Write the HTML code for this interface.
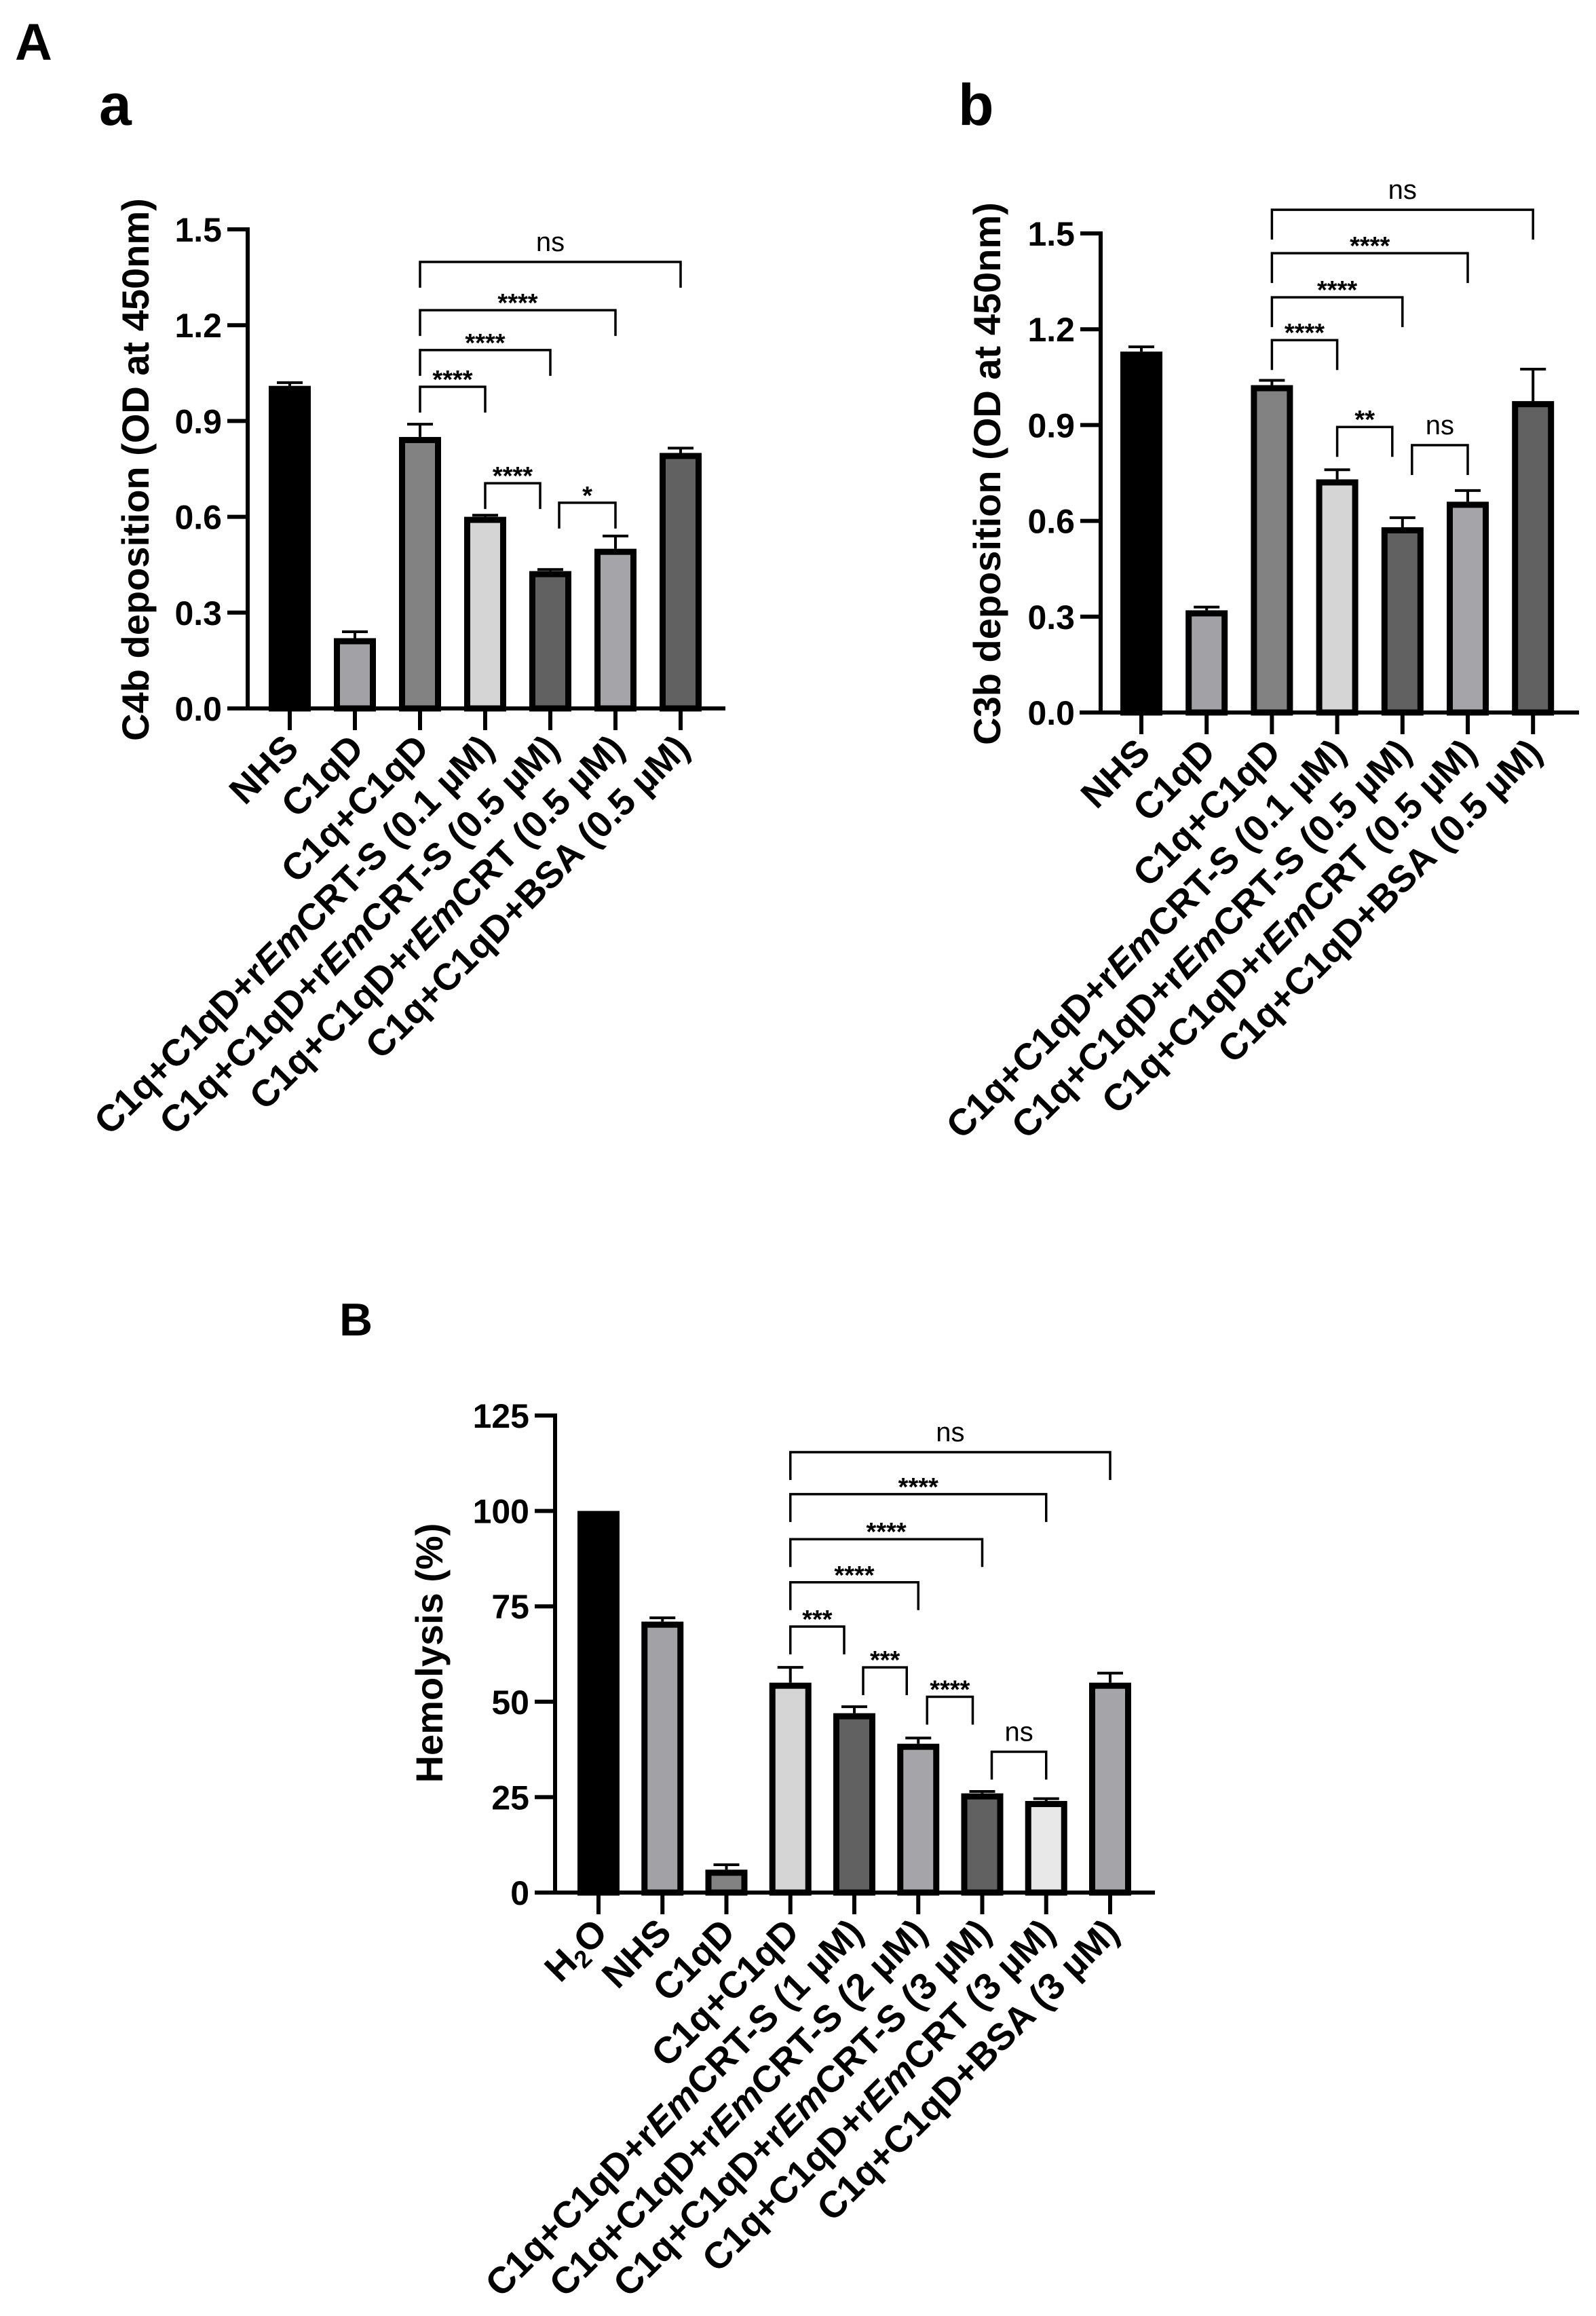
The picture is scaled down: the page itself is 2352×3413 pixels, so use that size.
<!DOCTYPE html>
<html><head><meta charset="utf-8">
<style>
html,body{margin:0;padding:0;background:#fff;}
svg{display:block;font-family:"Liberation Sans",Arial,sans-serif;}
</style></head>
<body>
<svg id="fig" width="2352" height="3413" viewBox="0 0 2352 3413" xmlns="http://www.w3.org/2000/svg">
<rect width="2352" height="3413" fill="#fff"/>
<text x="22" y="88" font-size="76" font-weight="bold">A</text>
<text x="146" y="184" font-size="86" font-weight="bold">a</text>
<text x="1412" y="184" font-size="86" font-weight="bold">b</text>
<text x="500" y="1968" font-size="68" font-weight="bold">B</text>
<g id="chartA"></g>
<g id="chartb"></g>
<g id="chartB"></g>
</svg>
<script>
// ---- Chart a: C4b deposition ----
const catsA = ["NHS","C1qD","C1q+C1qD","C1q+C1qD+rEmCRT-S (0.1 µM)","C1q+C1qD+rEmCRT-S (0.5 µM)","C1q+C1qD+rEmCRT (0.5 µM)","C1q+C1qD+BSA (0.5 µM)"];
const valsA = [1.01,0.22,0.85,0.60,0.43,0.50,0.80];
const errA = [0.01,0.02,0.04,0.005,0.005,0.04,0.015];
const ticksA = [0.0,0.3,0.6,0.9,1.2,1.5];
const tickLabelsA = ["0.0","0.3","0.6","0.9","1.2","1.5"];
const sigPairsA = [[2,3],[2,4],[2,5],[2,6],[3,4],[4,5]];
const sigLevelsA = [1.007,1.122,1.247,1.398,0.705,0.644];
const sigLabelsA = ["****","****","****","ns","****","*"];
// ---- Chart b: C3b deposition ----
const catsb = ["NHS","C1qD","C1q+C1qD","C1q+C1qD+rEmCRT-S (0.1 µM)","C1q+C1qD+rEmCRT-S (0.5 µM)","C1q+C1qD+rEmCRT (0.5 µM)","C1q+C1qD+BSA (0.5 µM)"];
const valsb = [1.13,0.32,1.025,0.73,0.58,0.66,0.975];
const errb = [0.015,0.01,0.015,0.03,0.03,0.035,0.10];
const ticksb = [0.0,0.3,0.6,0.9,1.2,1.5];
const tickLabelsb = ["0.0","0.3","0.6","0.9","1.2","1.5"];
const sigPairsb = [[2,3],[2,4],[2,5],[2,6],[3,4],[4,5]];
const sigLevelsb = [1.166,1.30,1.438,1.574,0.894,0.837];
const sigLabelsb = ["****","****","****","ns","**","ns"];
// ---- Chart B: Hemolysis ----
const catsB = ["H2O","NHS","C1qD","C1q+C1qD","C1q+C1qD+rEmCRT-S (1 µM)","C1q+C1qD+rEmCRT-S (2 µM)","C1q+C1qD+rEmCRT-S (3 µM)","C1q+C1qD+rEmCRT (3 µM)","C1q+C1qD+BSA (3 µM)"];
const valsB = [100,71,6,55,47,39,26,24,55];
const errB = [0,1,1.3,4,1.7,1.5,0.5,0.6,2.5];
const ticksB = [0,25,50,75,100,125];
const tickLabelsB = ["0","25","50","75","100","125"];
const sigPairsB = [[3,8],[3,7],[3,6],[3,5],[3,4],[4,5],[5,6],[6,7]];
const sigLevelsB = [115.4,104.4,92.6,81.3,69.7,59,51.3,36.9];
const sigLabelsB = ["ns","****","****","****","***","***","****","ns"];

// bracket end insets (style, px)
const insetA = [[0,0],[0,0],[0,0],[0,0],[0,-15],[13,0]];
const insetb = [[0,0],[0,0],[0,0],[0,0],[0,-15],[14,0]];
const insetB = [[0,0],[0,0],[0,0],[0,0],[0,-15],[13,-17],[13,-14],[14,0]];

const NS = "http://www.w3.org/2000/svg";
function mk(parent, tag, attrs){
  const e = document.createElementNS(NS, tag);
  for (const k in attrs) e.setAttribute(k, attrs[k]);
  parent.appendChild(e);
  return e;
}
function labelText(t, name){
  
  
}
function addCatLabel(t, s){
  if (s === "H2O"){
    const a = document.createElementNS(NS,'tspan'); a.textContent = "H"; t.appendChild(a);
    const b = document.createElementNS(NS,'tspan'); b.textContent = "2"; b.setAttribute('font-size','36'); b.setAttribute('dy','10'); t.appendChild(b);
    const c = document.createElementNS(NS,'tspan'); c.textContent = "O"; c.setAttribute('dy','-10'); t.appendChild(c);
    return;
  }
  const idx = s.indexOf("rEm");
  if (idx < 0){ t.textContent = s; return; }
  const p1 = document.createElementNS(NS,'tspan'); p1.textContent = s.slice(0, idx+1); t.appendChild(p1);
  const p2 = document.createElementNS(NS,'tspan'); p2.textContent = "Em"; p2.setAttribute('font-style','italic'); t.appendChild(p2);
  const p3 = document.createElementNS(NS,'tspan'); p3.textContent = s.slice(idx+3); t.appendChild(p3);
}

function drawChart(g, cfg, cats, vals, errs, ticks, tickLabels, pairs, levels, sigLabels, colors, insets){
  const y = v => cfg.y0 - v / cfg.max * (cfg.y0 - cfg.yTop);
  const x = i => cfg.first + i * cfg.step;
  cats.forEach((c, i) => {
    const top = y(vals[i]);
    const r = mk(g, 'rect', {x: x(i) - 26.5, y: top + 4.5, width: 53, height: Math.max(0, cfg.y0 - top - 4.5), fill: colors[i], stroke: '#000', 'stroke-width': 9});
    
    
    if (errs[i] > 0){
      const eTop = y(vals[i] + errs[i]);
      const l = mk(g, 'path', {d: `M${x(i)} ${top} V${eTop} M${x(i)-19} ${eTop} H${x(i)+19}`, stroke: '#000', 'stroke-width': 4, fill: 'none'});
      
      
    }
  });
  const ya = mk(g, 'line', {x1: cfg.axisX, y1: cfg.yTop - 3, x2: cfg.axisX, y2: cfg.y0, stroke: '#000', 'stroke-width': 6});
  
  
  const xa = mk(g, 'line', {x1: cfg.xStart, y1: cfg.y0, x2: cfg.xEnd, y2: cfg.y0, stroke: '#000', 'stroke-width': 6});
  
  
  ticks.forEach((tv, k) => {
    const ty = y(tv);
    const tl = mk(g, 'line', {x1: cfg.axisX - 30, y1: ty, x2: cfg.axisX, y2: ty, stroke: '#000', 'stroke-width': 6});
    
    
    const t = mk(g, 'text', {x: cfg.axisX - 38, y: ty + 18, 'font-size': 50, 'font-weight': 'bold', 'text-anchor': 'end'});
    t.textContent = tickLabels[k];
    labelText(t, 'y-tick-label');
  });
  cats.forEach((c, i) => {
    const tl = mk(g, 'line', {x1: x(i), y1: cfg.y0, x2: x(i), y2: cfg.y0 + 32, stroke: '#000', 'stroke-width': 6});
    
    
    const ax = x(i) + 16, ay = cfg.y0 + 62;
    const t = mk(g, 'text', {x: ax, y: ay, 'font-size': 55, 'font-weight': 'bold', 'text-anchor': 'end', transform: `rotate(-45 ${ax} ${ay})`});
    addCatLabel(t, c);
    labelText(t, 'x-category-label');
  });
  const tx = cfg.titleX, tyc = cfg.titleY;
  const tt = mk(g, 'text', {x: tx, y: tyc, 'font-size': 56, 'font-weight': 'bold', 'text-anchor': 'middle', transform: `rotate(-90 ${tx} ${tyc})`});
  tt.textContent = cfg.title;
  labelText(tt, 'y-axis-title');
  pairs.forEach((p, k) => {
    const by = y(levels[k]);
    const x1 = x(p[0]) + insets[k][0], x2 = x(p[1]) + insets[k][1];
    const br = mk(g, 'path', {d: `M${x1} ${by + cfg.leg} V${by} H${x2} V${by + cfg.leg}`, stroke: '#000', 'stroke-width': 3.5, fill: 'none'});
    
    
    const isNs = sigLabels[k] === 'ns';
    const t = mk(g, 'text', {x: (x1 + x2) / 2, y: isNs ? by - 16 : by + 2, 'font-size': isNs ? 40 : 38, 'font-weight': isNs ? 'normal' : 'bold', 'text-anchor': 'middle'});
    t.textContent = sigLabels[k];
    labelText(t, 'significance-label');
  });
}

const colsA = ['#000000','#a2a2a6','#828282','#d5d5d5','#616161','#a5a5a9','#616161'];
const colsB = ['#000000','#a2a2a6','#828282','#d5d5d5','#616161','#a5a5a9','#616161','#e8e8e8','#a5a5a9'];

drawChart(document.getElementById('chartA'),
  {axisX:365, xStart:336, xEnd:1069, yTop:338, y0:1044, max:1.5, first:427, step:96, leg:38, titleX:219, titleY:692, title:'C4b deposition (OD at 450nm)'},
  catsA, valsA, errA, ticksA, tickLabelsA, sigPairsA, sigLevelsA, sigLabelsA, colsA, insetA);
drawChart(document.getElementById('chartb'),
  {axisX:1622, xStart:1591, xEnd:2327, yTop:344, y0:1050, max:1.5, first:1682, step:96.2, leg:44, titleX:1474, titleY:698, title:'C3b deposition (OD at 450nm)'},
  catsb, valsb, errb, ticksb, tickLabelsb, sigPairsb, sigLevelsb, sigLabelsb, colsA, insetb);
drawChart(document.getElementById('chartB'),
  {axisX:818, xStart:790, xEnd:1702, yTop:2086, y0:2789, max:125, first:882, step:94.25, leg:41, titleX:652, titleY:2436, title:'Hemolysis (%)'},
  catsB, valsB, errB, ticksB, tickLabelsB, sigPairsB, sigLevelsB, sigLabelsB, colsB, insetB);
</script>
</body></html>
